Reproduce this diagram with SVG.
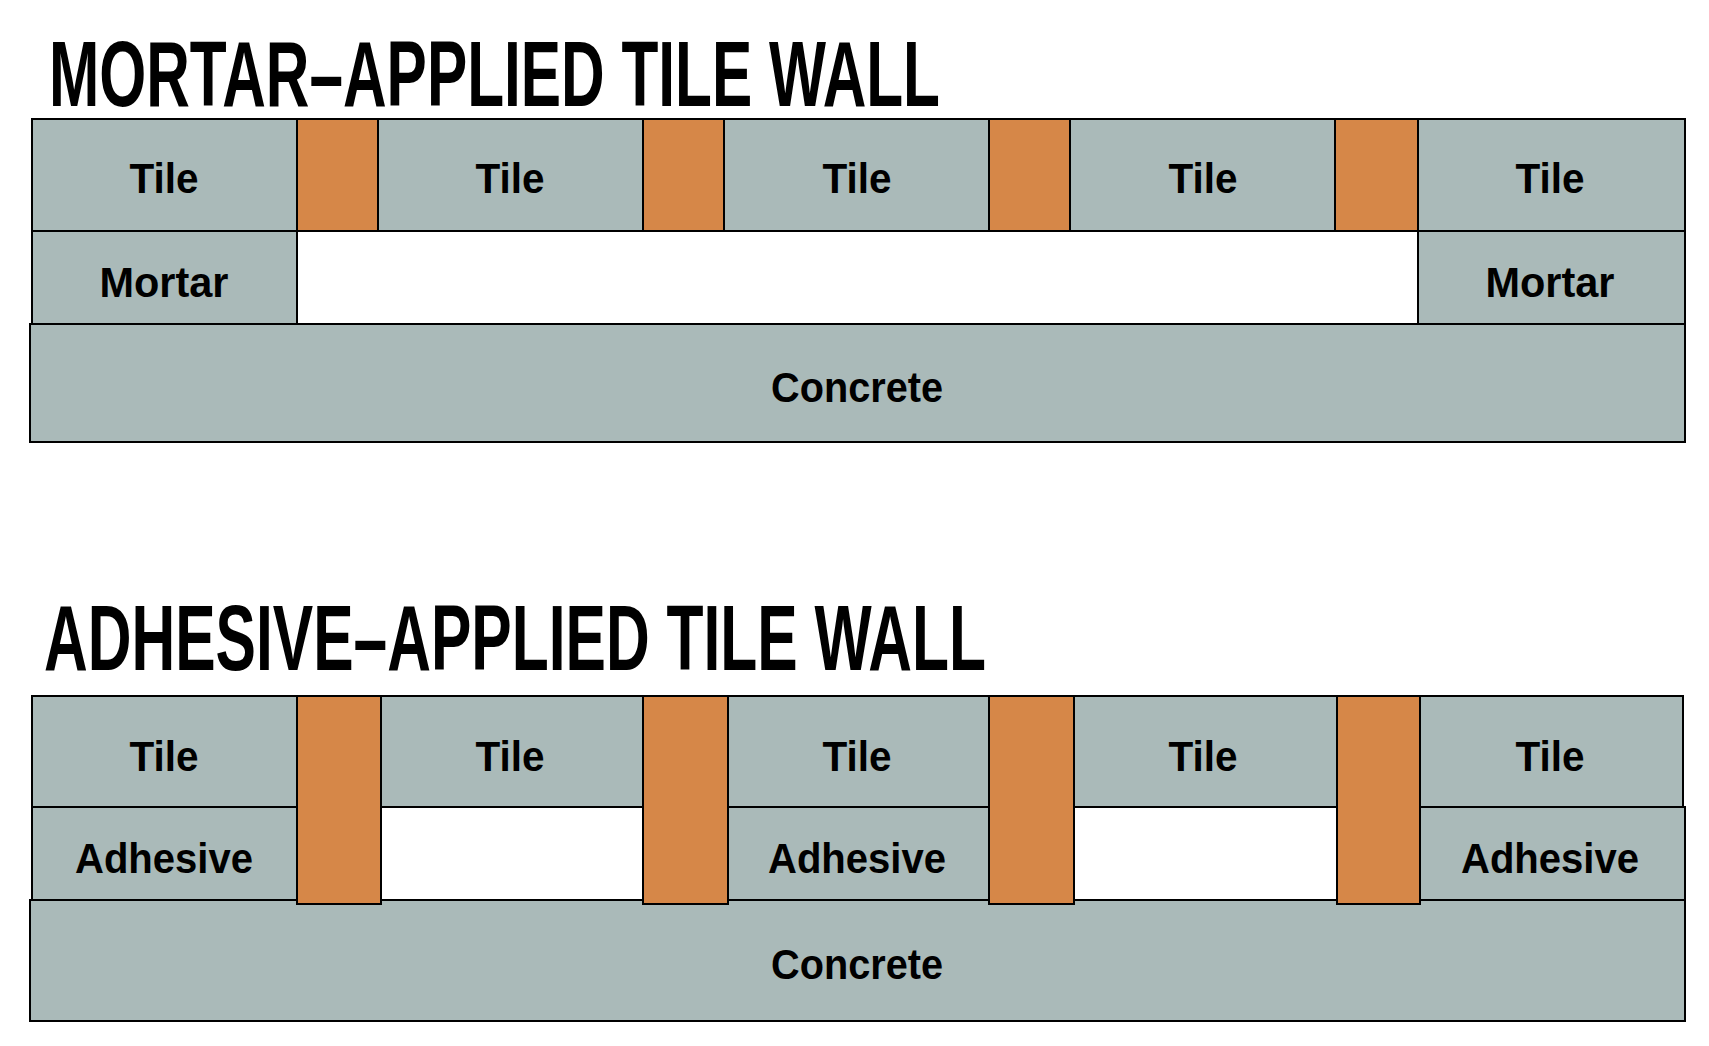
<svg xmlns="http://www.w3.org/2000/svg" width="1709" height="1046" viewBox="0 0 1709 1046">
<style>
.g{fill:#aabab9;stroke:#000;stroke-width:2}
.o{fill:#d68748;stroke:#000;stroke-width:2}
.w{fill:#fff;stroke:#000;stroke-width:2}
.t{font-family:"Liberation Sans",Arial,sans-serif;font-weight:bold;font-size:42px;text-anchor:middle;fill:#000}
.h{font-family:"Liberation Sans",Arial,sans-serif;font-weight:bold;font-size:92px;fill:#000}
</style>
<rect width="1709" height="1046" fill="#fff"/>
<text class="h" x="49" y="106" textLength="891" lengthAdjust="spacingAndGlyphs">MORTAR–APPLIED TILE WALL</text>
<g id="top">
<rect class="w" x="297" y="231" width="1121" height="93"/>
<g id="t1"><rect class="g" x="32" y="119" width="265" height="112"/><text class="t" x="164" y="193" textLength="69" lengthAdjust="spacingAndGlyphs">Tile</text></g>
<g id="t2"><rect class="g" x="378" y="119" width="265" height="112"/><text class="t" x="510" y="193" textLength="69" lengthAdjust="spacingAndGlyphs">Tile</text></g>
<g id="t3"><rect class="g" x="724" y="119" width="265" height="112"/><text class="t" x="857" y="193" textLength="69" lengthAdjust="spacingAndGlyphs">Tile</text></g>
<g id="t4"><rect class="g" x="1070" y="119" width="265" height="112"/><text class="t" x="1203" y="193" textLength="69" lengthAdjust="spacingAndGlyphs">Tile</text></g>
<g id="t5"><rect class="g" x="1418" y="119" width="267" height="112"/><text class="t" x="1550" y="193" textLength="69" lengthAdjust="spacingAndGlyphs">Tile</text></g>
<g id="j1"><rect class="o" x="297" y="119" width="81" height="112"/></g>
<g id="j2"><rect class="o" x="643" y="119" width="81" height="112"/></g>
<g id="j3"><rect class="o" x="989" y="119" width="81" height="112"/></g>
<g id="j4"><rect class="o" x="1335" y="119" width="83" height="112"/></g>
<g id="m1"><rect class="g" x="32" y="231" width="265" height="93"/><text class="t" x="164" y="297" textLength="129" lengthAdjust="spacingAndGlyphs">Mortar</text></g>
<g id="m2"><rect class="g" x="1418" y="231" width="267" height="93"/><text class="t" x="1550" y="297" textLength="129" lengthAdjust="spacingAndGlyphs">Mortar</text></g>
<g id="c1"><rect class="g" x="30" y="324" width="1655" height="118"/><text class="t" x="857" y="402" textLength="172" lengthAdjust="spacingAndGlyphs">Concrete</text></g>
</g>
<text class="h" x="44" y="670" textLength="942" lengthAdjust="spacingAndGlyphs">ADHESIVE–APPLIED TILE WALL</text>
<g id="bottom">
<rect class="w" x="297" y="807" width="1123" height="93"/>
<g id="c2"><rect class="g" x="30" y="900" width="1655" height="121"/><text class="t" x="857" y="979" textLength="172" lengthAdjust="spacingAndGlyphs">Concrete</text></g>
<g id="bt1"><rect class="g" x="32" y="696" width="265" height="111"/><text class="t" x="164" y="771" textLength="69" lengthAdjust="spacingAndGlyphs">Tile</text></g>
<g id="bt2"><rect class="g" x="381" y="696" width="262" height="111"/><text class="t" x="510" y="771" textLength="69" lengthAdjust="spacingAndGlyphs">Tile</text></g>
<g id="bt3"><rect class="g" x="728" y="696" width="261" height="111"/><text class="t" x="857" y="771" textLength="69" lengthAdjust="spacingAndGlyphs">Tile</text></g>
<g id="bt4"><rect class="g" x="1074" y="696" width="263" height="111"/><text class="t" x="1203" y="771" textLength="69" lengthAdjust="spacingAndGlyphs">Tile</text></g>
<g id="bt5"><rect class="g" x="1420" y="696" width="263" height="111"/><text class="t" x="1550" y="771" textLength="69" lengthAdjust="spacingAndGlyphs">Tile</text></g>
<g id="a1"><rect class="g" x="32" y="807" width="265" height="93"/><text class="t" x="164" y="873" textLength="178" lengthAdjust="spacingAndGlyphs">Adhesive</text></g>
<g id="a2"><rect class="g" x="728" y="807" width="261" height="93"/><text class="t" x="857" y="873" textLength="178" lengthAdjust="spacingAndGlyphs">Adhesive</text></g>
<g id="a3"><rect class="g" x="1420" y="807" width="265" height="93"/><text class="t" x="1550" y="873" textLength="178" lengthAdjust="spacingAndGlyphs">Adhesive</text></g>
<g id="bj1"><rect class="o" x="297" y="696" width="84" height="208"/></g>
<g id="bj2"><rect class="o" x="643" y="696" width="85" height="208"/></g>
<g id="bj3"><rect class="o" x="989" y="696" width="85" height="208"/></g>
<g id="bj4"><rect class="o" x="1337" y="696" width="83" height="208"/></g>
</g>
</svg>
